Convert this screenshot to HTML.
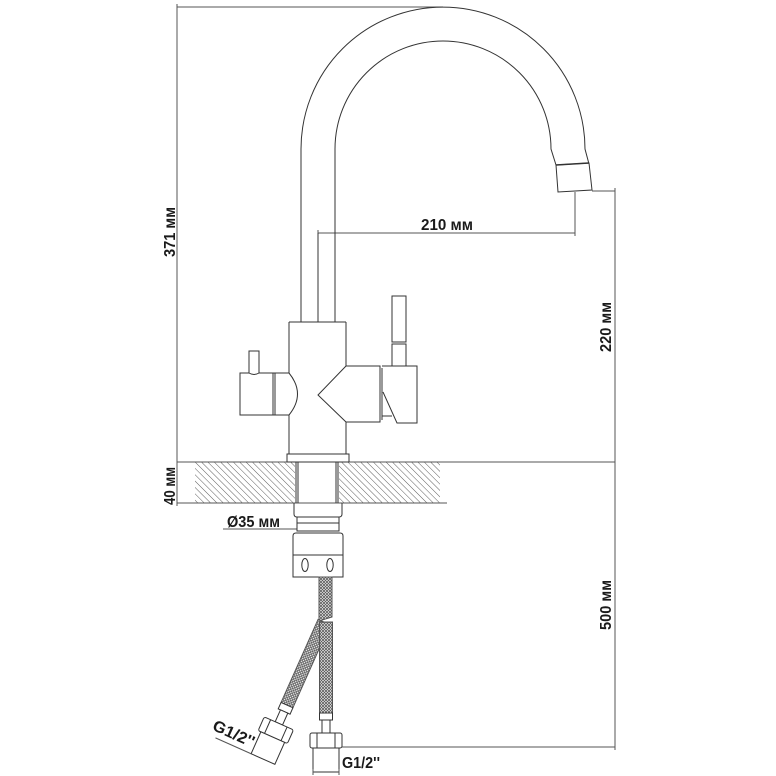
<!DOCTYPE html>
<html>
<head>
<meta charset="utf-8">
<style>
  html, body { margin: 0; padding: 0; background: #fff; }
  svg { display: block; }
  text { font-family: "Liberation Sans", "DejaVu Sans", sans-serif; font-weight: bold; fill: #1a1a1a; }
</style>
</head>
<body>
<svg width="776" height="776" viewBox="0 0 776 776" xmlns="http://www.w3.org/2000/svg">
  <defs>
    <pattern id="hatch" patternUnits="userSpaceOnUse" width="4.5" height="10" patternTransform="rotate(-45)">
      <line x1="0" y1="0" x2="0" y2="10" stroke="#5e5e5e" stroke-width="1"/>
    </pattern>
    <pattern id="braid" patternUnits="userSpaceOnUse" width="3" height="3">
      <rect width="3" height="3" fill="#fff"/>
      <path d="M0,0 L3,3 M3,0 L0,3" stroke="#5a5a5a" stroke-width="0.8"/>
    </pattern>
  </defs>

  <rect width="776" height="776" fill="#fff"/>

  <!-- countertop hatch -->
  <rect x="195" y="462" width="100" height="41" fill="url(#hatch)"/>
  <rect x="339" y="462" width="101" height="41" fill="url(#hatch)"/>

  <!-- dimension lines -->
  <g stroke="#555" stroke-width="1" fill="none">
    <line x1="177" y1="7" x2="443" y2="7"/>
    <line x1="177" y1="7" x2="177" y2="503"/>
    <line x1="177" y1="462" x2="615" y2="462"/>
    <line x1="177" y1="503" x2="447" y2="503"/>
    <line x1="318" y1="233" x2="575" y2="233"/>
    <line x1="575" y1="192" x2="575" y2="233"/>
    <line x1="592" y1="191" x2="615" y2="191"/>
    <line x1="615" y1="191" x2="615" y2="747"/>
    <line x1="342" y1="747" x2="615" y2="747"/>
    <line x1="223" y1="529" x2="297" y2="529"/>
    <!-- ticks -->
    <line x1="177" y1="4" x2="177" y2="10"/>
    <line x1="177" y1="459" x2="177" y2="465"/>
    <line x1="177" y1="500" x2="177" y2="506"/>
    <line x1="318" y1="230" x2="318" y2="236"/>
    <line x1="575" y1="230" x2="575" y2="236"/>
    <line x1="615" y1="188" x2="615" y2="194"/>
    <line x1="615" y1="459" x2="615" y2="465"/>
    <line x1="615" y1="744" x2="615" y2="750"/>
  </g>

  <!-- faucet -->
  <g stroke="#333" stroke-width="1" fill="none">
    <!-- spout -->
    <path d="M301,322 L301,149 A142,142 0 0 1 585,149 L589,164"/>
    <path d="M335,322 L335,149 A108,108 0 0 1 551,149 L556,165"/>
    <path d="M556,165 L589,163 L592,190 L558,192 Z" fill="#fff"/>
    <line x1="556" y1="165" x2="589" y2="163" stroke-width="1.6"/>
    <line x1="318" y1="233" x2="318" y2="322"/>

    <!-- body -->
    <line x1="289" y1="322" x2="346" y2="322"/>
    <line x1="289" y1="322" x2="289" y2="373"/>
    <line x1="289" y1="415" x2="289" y2="454"/>
    <line x1="346" y1="322" x2="346" y2="366"/>
    <line x1="346" y1="422" x2="346" y2="454"/>

    <!-- left handle -->
    <path d="M289,373 Q306,394 289,415"/>
    <path d="M289,373 L240,373 L240,415 L289,415"/>
    <line x1="273" y1="373" x2="273" y2="415"/>
    <line x1="275" y1="373" x2="275" y2="415"/>
    <path d="M249,373 L249,351 L259,351 L259,373 Q254,376 249,373 Z" fill="#fff"/>

    <!-- V notch + right handle -->
    <path d="M346,366 L318,395 L346,422"/>
    <path d="M346,366 L380,366 L380,422 L346,422"/>
    <line x1="382" y1="368" x2="382" y2="420"/>
    <path d="M382,366 L417,366 L417,423 L397,423 L383,392"/>
    <line x1="382" y1="416" x2="392" y2="416"/>
    <rect x="392" y="296" width="14" height="46"/>
    <rect x="392" y="344" width="14" height="22"/>

    <!-- base flange -->
    <rect x="287" y="454" width="62" height="8" fill="#fff"/>

    <!-- shank through counter -->
    <line x1="296" y1="462" x2="296" y2="503"/>
    <line x1="298" y1="462" x2="298" y2="503"/>
    <line x1="336" y1="462" x2="336" y2="503"/>
    <line x1="338" y1="462" x2="338" y2="503"/>

    <!-- nut below counter -->
    <path d="M294,503 L294,514 Q294,517 297,517 L339,517 Q342,517 342,514 L342,503"/>
    <path d="M297,517 L297,531 L339,531 L339,517"/>
    <line x1="297" y1="523" x2="339" y2="523"/>
    <path d="M293,577 L293,536 Q293,533 296,533 L340,533 Q343,533 343,536 L343,577 Z" fill="#fff"/>
    <line x1="293" y1="555" x2="343" y2="555"/>
    <ellipse cx="305" cy="565" rx="3.2" ry="6.5"/>
    <ellipse cx="330" cy="565" rx="3.2" ry="6.5"/>
  </g>

  <!-- upper hose piece -->
  <path d="M319,577 L332,577 L332,617 L319,621 Z" fill="url(#braid)" stroke="#555" stroke-width="1"/>

  <!-- left (angled) hose assembly -->
  <g transform="translate(324,622) rotate(24)" stroke="#333" stroke-width="1" fill="#fff">
    <rect x="-6.5" y="0" width="13" height="91" fill="url(#braid)" stroke="#555"/>
    <rect x="-6.5" y="91" width="13" height="7"/>
    <rect x="-4" y="98" width="8" height="13"/>
    <rect x="-16" y="111" width="32" height="15" rx="2"/>
    <line x1="-9" y1="111" x2="-9" y2="126"/>
    <line x1="9" y1="111" x2="9" y2="126"/>
    <rect x="-13" y="126" width="26" height="24"/>
    <line x1="-52" y1="150" x2="-13" y2="150" stroke="#555"/>
    <text x="-37" y="144" font-size="16" text-anchor="middle" textLength="44" lengthAdjust="spacingAndGlyphs" stroke="none">G1/2''</text>
  </g>

  <!-- right (straight) hose assembly -->
  <g transform="translate(326,622)" stroke="#333" stroke-width="1" fill="#fff">
    <rect x="-6.5" y="0" width="13" height="91" fill="url(#braid)" stroke="#555"/>
    <rect x="-6.5" y="91" width="13" height="7"/>
    <rect x="-4" y="98" width="8" height="13"/>
    <rect x="-16" y="111" width="32" height="15" rx="2"/>
    <line x1="-9" y1="111" x2="-9" y2="126"/>
    <line x1="9" y1="111" x2="9" y2="126"/>
    <rect x="-13" y="126" width="26" height="24"/>
    <line x1="-13" y1="147" x2="-13" y2="153" stroke="#555"/>
    <line x1="13" y1="147" x2="13" y2="153" stroke="#555"/>
  </g>

  <!-- labels -->
  <text x="447" y="230" font-size="16" text-anchor="middle" textLength="52" lengthAdjust="spacingAndGlyphs">210 мм</text>
  <text transform="translate(175,232) rotate(-90)" x="0" y="0" font-size="16" text-anchor="middle" textLength="50" lengthAdjust="spacingAndGlyphs">371 мм</text>
  <text transform="translate(175,486) rotate(-90)" x="0" y="0" font-size="16" text-anchor="middle" textLength="38" lengthAdjust="spacingAndGlyphs">40 мм</text>
  <text transform="translate(611,327) rotate(-90)" x="0" y="0" font-size="16" text-anchor="middle" textLength="50" lengthAdjust="spacingAndGlyphs">220 мм</text>
  <text transform="translate(611,605) rotate(-90)" x="0" y="0" font-size="16" text-anchor="middle" textLength="50" lengthAdjust="spacingAndGlyphs">500 мм</text>
  <text x="227" y="527" font-size="16" textLength="53" lengthAdjust="spacingAndGlyphs">Ø35 мм</text>
  <text x="342" y="768" font-size="16" textLength="38" lengthAdjust="spacingAndGlyphs">G1/2''</text>
</svg>
</body>
</html>
